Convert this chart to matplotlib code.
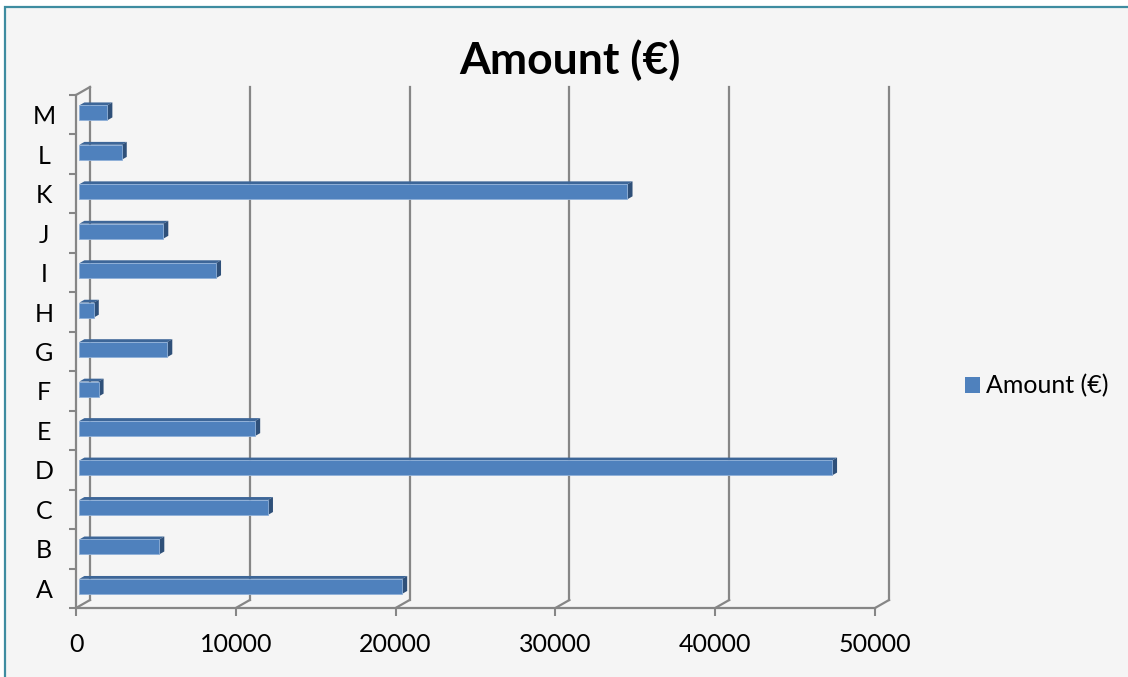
import numpy as np
import matplotlib.pyplot as plt
from matplotlib.patches import Polygon, Rectangle, Patch

plt.rcParams['font.family'] = ['Lato', 'DejaVu Sans']

categories = ['A', 'B', 'C', 'D', 'E', 'F', 'G', 'H', 'I', 'J', 'K', 'L', 'M']
amounts = [20200, 5000, 11800, 47100, 11000, 1200, 5500, 900, 8550, 5250, 34300, 2650, 1750]
x_ticks = [0, 10000, 20000, 30000, 40000, 50000]
series_name = 'Amount (€)'

W, H = 1128, 677
fig = plt.figure(figsize=(W / 100, H / 100), dpi=100, facecolor='white')

# grey chart area, teal frame on top and left (runs off the right and bottom)
fig.patches.append(Rectangle((5 / W, -0.05), 1.0, (H - 7) / H + 0.05,
                             transform=fig.transFigure, facecolor='#f5f5f5',
                             edgecolor='#3e8ca0', lw=1.6, zorder=-10))

ax = fig.add_axes([76 / W, (H - 608) / H, 799 / W, 513 / H])
ax.set_xlim(0, 50000)
ax.set_ylim(-0.5, 12.5)
ax.patch.set_visible(False)
for s in ax.spines.values():
    s.set_visible(False)

grid_c = '#868686'
# oblique depth of the back wall, in data units (14 px right, 8 px up)
DX = 14 * 50000 / 799
DY = 8 * 13 / 513
y0, y1 = -0.5, 12.5

# front axes
ax.plot([0, 0], [y0, y1], color=grid_c, lw=1.6, clip_on=False, zorder=2)
ax.plot([0, 50000], [y0, y0], color=grid_c, lw=1.6, clip_on=False, zorder=2)
ax.plot([0, DX], [y1, y1 + DY], color=grid_c, lw=1.6, clip_on=False, zorder=2)
# back wall gridlines with the floor connectors
for xt in x_ticks:
    ax.plot([xt + DX, xt + DX], [y0 + DY, y1 + DY], color=grid_c, lw=1.6,
            clip_on=False, zorder=1)
    ax.plot([xt, xt + DX], [y0, y0 + DY], color=grid_c, lw=1.6,
            clip_on=False, zorder=1)

# bars as small prisms
front_c, top_c, side_c = '#4f81bd', '#3d6698', '#2f5079'
z0, z1, hh = 0.24, 0.6, 0.19
for i, v in enumerate(amounts):
    fx, fy = z0 * DX, z0 * DY
    bx, by = z1 * DX, z1 * DY
    top = [(fx, i + hh + fy), (v + fx, i + hh + fy), (v + bx, i + hh + by), (bx, i + hh + by)]
    side = [(v + fx, i - hh + fy), (v + bx, i - hh + by), (v + bx, i + hh + by), (v + fx, i + hh + fy)]
    front = [(fx, i - hh + fy), (v + fx, i - hh + fy), (v + fx, i + hh + fy), (fx, i + hh + fy)]
    ax.add_patch(Polygon(top, closed=True, facecolor=top_c, edgecolor='none', zorder=3, clip_on=False))
    ax.add_patch(Polygon(side, closed=True, facecolor=side_c, edgecolor='none', zorder=3, clip_on=False))
    ax.add_patch(Polygon(front, closed=True, facecolor=front_c, edgecolor='#8fb0d8',
                         lw=0.6, zorder=4, clip_on=False))

# ticks at band edges, labels at band centres
ax.set_yticks(np.arange(-0.5, 13, 1))
ax.set_yticklabels([])
ax.set_yticks(range(len(categories)), minor=True)
ax.set_yticklabels(categories, minor=True, fontsize=18)
ax.tick_params(axis='y', which='major', direction='out', length=5, width=1.5, color=grid_c)
ax.tick_params(axis='y', which='minor', length=0, pad=23)
for lab in ax.get_yticklabels(minor=True):
    lab.set_horizontalalignment('center')

ax.set_xticks(x_ticks)
ax.set_xticklabels([str(t) for t in x_ticks], fontsize=18)
ax.tick_params(axis='x', direction='out', length=6, width=1.5, color=grid_c, pad=12)

fig.text(570 / W, 1 - 60 / H, series_name, ha='center', va='center',
         fontsize=32, weight='bold')

fig.legend(handles=[Patch(facecolor=front_c)], labels=[series_name],
           loc='center left', bbox_to_anchor=(942 / W, 1 - 386 / H),
           frameon=False, handlelength=0.6, handleheight=0.6,
           handletextpad=0.25, fontsize=18)

fig.savefig('out.png', dpi=100, facecolor='white')
